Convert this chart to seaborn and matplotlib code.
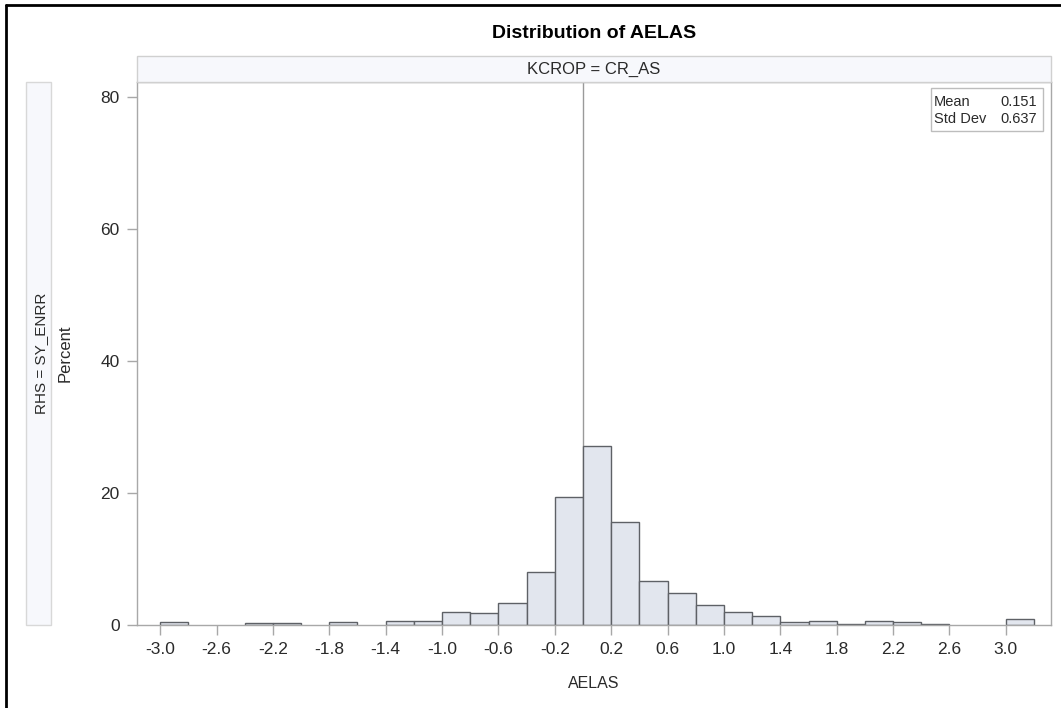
import numpy as np
import pandas as pd
import seaborn as sns
import matplotlib
matplotlib.use("Agg")
import matplotlib.pyplot as plt
from matplotlib.patches import Rectangle
from matplotlib.lines import Line2D

# --- data (percent per 0.2-wide bin) ---
bin_start = [-3.0, -2.8, -2.6, -2.4, -2.2, -2.0, -1.8, -1.6, -1.4, -1.2,
             -1.0, -0.8, -0.6, -0.4, -0.2, 0.0, 0.2, 0.4, 0.6, 0.8,
             1.0, 1.2, 1.4, 1.6, 1.8, 2.0, 2.2, 2.4, 2.6, 2.8, 3.0]
percent = [0.45, 0.0, 0.0, 0.25, 0.25, 0.0, 0.45, 0.0, 0.65, 0.65,
           2.0, 1.8, 3.4, 8.0, 19.4, 27.1, 15.6, 6.7, 4.9, 3.1,
           1.9, 1.3, 0.45, 0.65, 0.2, 0.65, 0.45, 0.2, 0.0, 0.0, 0.85]
bin_width = 0.2
x_ticks = [-3.0, -2.6, -2.2, -1.8, -1.4, -1.0, -0.6, -0.2,
           0.2, 0.6, 1.0, 1.4, 1.8, 2.2, 2.6, 3.0]
y_ticks = [0, 20, 40, 60, 80]
stat_names = ["Mean", "Std Dev"]
stat_values = ["0.151", "0.637"]
ref_line = 0.0

df = pd.DataFrame({"AELAS": [b + bin_width / 2 for b in bin_start], "pct": percent})
edges = bin_start + [bin_start[-1] + bin_width]

sns.set_theme(style="white")
plt.rcParams["font.family"] = ["Liberation Sans", "DejaVu Sans"]

W, H = 1061, 708
fig = plt.figure(figsize=(W / 100, H / 100), dpi=100)
ax_l, ax_r, ax_t, ax_b = 137, 1050.7, 82, 625
ax = fig.add_axes([ax_l / W, 1 - ax_b / H, (ax_r - ax_l) / W, (ax_b - ax_t) / H])

spine_col = "#A8A8A8"
txt_col = "#2A2A2A"

sns.histplot(data=df, x="AELAS", weights="pct", bins=edges, ax=ax,
             color="#E2E6EE", edgecolor="#5E6166", linewidth=1.0, alpha=1.0)
# hide empty bins so only the axis line shows there
for p in ax.patches:
    if p.get_height() == 0:
        p.set_visible(False)

ax.axvline(ref_line, color="#9A9A9A", lw=1.0, zorder=0.5)

ax.set_xlim(-3.164, 3.318)
ax.set_ylim(0, 82.3)
ax.set_xticks(x_ticks)
ax.set_xticklabels([f"{t:.1f}" for t in x_ticks])
ax.set_yticks(y_ticks)
ax.tick_params(axis="both", direction="out", length=7, width=1, color=spine_col,
               labelsize=12.5, labelcolor=txt_col, pad=5.5,
               bottom=True, left=True)
for s in ax.spines.values():
    s.set_color(spine_col)
    s.set_linewidth(1.0)

ax.set_xlabel("AELAS", fontsize=11.5, color=txt_col, va="top")
ax.xaxis.set_label_coords(0.5, -0.094)
ax.set_ylabel("Percent", fontsize=12, color=txt_col)
ax.yaxis.set_label_coords(-0.071, 0.5)

# inset stats box
box_x0, box_x1, box_y0, box_y1 = 931, 1043, 88, 131
fig.patches.append(Rectangle((box_x0 / W, 1 - box_y1 / H), (box_x1 - box_x0) / W,
                             (box_y1 - box_y0) / H, transform=fig.transFigure,
                             facecolor="white", edgecolor="#BDBDBD", lw=1.0))
for i, (n, v) in enumerate(zip(stat_names, stat_values)):
    yy = 1 - (101.5 + 17.5 * i) / H
    fig.text(934 / W, yy, n, fontsize=10.5, color=txt_col, ha="left", va="center")
    fig.text(1037 / W, yy, v, fontsize=10.5, color=txt_col, ha="right", va="center")

# header strip
fig.patches.append(Rectangle((ax_l / W, 1 - ax_t / H), (ax_r - ax_l) / W, 26 / H,
                             transform=fig.transFigure, facecolor="#F7F8FC",
                             edgecolor="#D0D0D0", lw=1.0, zorder=0))
fig.text((ax_l + ax_r) / 2 / W, 1 - 69 / H, "KCROP = CR_AS", fontsize=12,
         color=txt_col, ha="center", va="center")

# left strip
fig.patches.append(Rectangle((26 / W, 1 - ax_b / H), 25 / W, (ax_b - ax_t) / H,
                             transform=fig.transFigure, facecolor="#F7F8FC",
                             edgecolor="#D8D8D8", lw=1.0, zorder=0))
fig.text(41 / W, 1 - 353 / H, "RHS = SY_ENRR", fontsize=11, color=txt_col,
         rotation=90, ha="center", va="center")

fig.text((ax_l + ax_r) / 2 / W, 1 - 33 / H, "Distribution of AELAS",
         fontsize=14, fontweight="bold", color="black", ha="center", va="center")

# outer frame (left and top edges visible)
fig.lines.append(Line2D([6 / W, 6 / W], [0, 1 - 4.5 / H], transform=fig.transFigure,
                        color="black", lw=2))
fig.lines.append(Line2D([6 / W, 1], [1 - 4.5 / H, 1 - 4.5 / H], transform=fig.transFigure,
                        color="black", lw=2))

fig.savefig("out.png", dpi=100)
